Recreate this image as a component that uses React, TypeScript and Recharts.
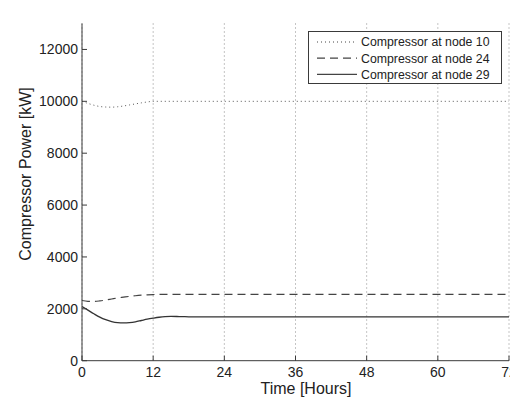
import React from "react";
import { LineChart, Line, XAxis, YAxis, CartesianGrid } from "recharts";

const hours = [0, 1, 2, 3, 4, 5, 6, 7, 8, 9, 10, 11, 12, 13, 14, 15, 16, 17, 18, 20, 24, 36, 48, 60, 72];
const node10 = [10000, 9920, 9850, 9800, 9780, 9775, 9790, 9820, 9860, 9900, 9940, 9975, 10000, 10000, 10000, 10000, 10000, 10000, 10000, 10000, 10000, 10000, 10000, 10000, 10000];
const node24 = [2320, 2290, 2285, 2305, 2340, 2380, 2420, 2450, 2480, 2505, 2525, 2540, 2550, 2555, 2558, 2560, 2560, 2560, 2560, 2560, 2560, 2560, 2560, 2560, 2560];
const node29 = [2090, 1950, 1810, 1680, 1580, 1510, 1470, 1460, 1470, 1500, 1550, 1600, 1640, 1675, 1698, 1706, 1704, 1698, 1692, 1690, 1690, 1690, 1690, 1690, 1690];

const xTicks = [0, 12, 24, 36, 48, 60, 72];
const yTicks = [0, 2000, 4000, 6000, 8000, 10000, 12000];
const seriesNames = ["Compressor at node 10", "Compressor at node 24", "Compressor at node 29"];

const rows = hours.map((h, i) => ({ t: h, a: node10[i], b: node24[i], c: node29[i] }));

const FONT = '"Liberation Sans", Arial, Helvetica, sans-serif';
const AX = "#3a3a3a";

const BottomTick = (props: any) => {
  const { x, y, payload } = props;
  return (
    <g>
      <line x1={x} y1={y} x2={x} y2={y - 5} stroke={AX} strokeWidth={1} />
      <text x={x} y={y + 16} textAnchor="middle" fontSize={14} fill="#222" fontFamily={FONT}>
        {payload.value}
      </text>
    </g>
  );
};
const TopTick = (props: any) => {
  const { x, y } = props;
  return <line x1={x} y1={y} x2={x} y2={y + 5} stroke={AX} strokeWidth={1} />;
};
const LeftTick = (props: any) => {
  const { x, y, payload } = props;
  return (
    <g>
      <line x1={x} y1={y} x2={x + 5} y2={y} stroke={AX} strokeWidth={1} />
      <text x={x - 4} y={y + 5} textAnchor="end" fontSize={14} fill="#222" fontFamily={FONT}>
        {payload.value}
      </text>
    </g>
  );
};
const RightTick = (props: any) => {
  const { x, y } = props;
  return <line x1={x} y1={y} x2={x - 5} y2={y} stroke={AX} strokeWidth={1} />;
};

const legendStyles = [
  { dash: "1 3", w: 1 },
  { dash: "8 5", w: 1.2 },
  { dash: undefined as string | undefined, w: 1.3 },
];

export default function App() {
  return (
    <div style={{ position: "fixed", left: 0, top: 0, width: 510, height: 404, overflow: "hidden", background: "#fff" }}>
      <LineChart width={530} height={404} data={rows} margin={{ top: 23.5, left: 22, right: 21, bottom: 13.3 }}>
        <CartesianGrid horizontal={false} vertical={true} stroke="#8a8a8a" strokeDasharray="1 3" />
        <XAxis
          dataKey="t"
          type="number"
          domain={[0, 72]}
          ticks={xTicks}
          height={30}
          tickSize={0}
          tickMargin={0}
          tickLine={false}
          axisLine={{ stroke: AX, strokeWidth: 1 }}
          tick={BottomTick}
          interval={0}
        />
        <XAxis
          xAxisId="top"
          orientation="top"
          dataKey="t"
          type="number"
          domain={[0, 72]}
          ticks={xTicks}
          height={0}
          tickSize={0}
          tickMargin={0}
          tickLine={false}
          axisLine={{ stroke: AX, strokeWidth: 1 }}
          tick={TopTick}
          interval={0}
        />
        <YAxis
          type="number"
          domain={[0, 13000]}
          ticks={yTicks}
          width={60}
          tickSize={0}
          tickMargin={0}
          tickLine={false}
          axisLine={{ stroke: AX, strokeWidth: 1 }}
          tick={LeftTick}
          interval={0}
        />
        <YAxis
          yAxisId="right"
          orientation="right"
          type="number"
          domain={[0, 13000]}
          ticks={yTicks}
          width={0}
          tickSize={0}
          tickMargin={0}
          tickLine={false}
          axisLine={{ stroke: AX, strokeWidth: 1 }}
          tick={RightTick}
          interval={0}
        />
        <Line type="monotone" dataKey="a" name={seriesNames[0]} stroke="#555" strokeWidth={1} strokeDasharray="1 3" dot={false} isAnimationActive={false} />
        <Line type="monotone" dataKey="b" name={seriesNames[1]} stroke="#444" strokeWidth={1.2} strokeDasharray="8 5" dot={false} isAnimationActive={false} />
        <Line type="monotone" dataKey="c" name={seriesNames[2]} stroke="#333" strokeWidth={1.3} dot={false} isAnimationActive={false} />
        <g>
          <rect x={308.5} y={31.5} width={193} height={52} fill="#fff" stroke={AX} strokeWidth={1} />
          {seriesNames.map((n, i) => {
            const cy = 42 + i * 16.2;
            return (
              <g key={n}>
                <line x1={317} x2={357} y1={cy} y2={cy} stroke="#444" strokeWidth={legendStyles[i].w} strokeDasharray={legendStyles[i].dash} />
                <text x={361} y={cy + 4.3} fontSize={12.3} fill="#222" fontFamily={FONT}>
                  {n}
                </text>
              </g>
            );
          })}
        </g>
        <text x={306} y={394} textAnchor="middle" fontSize={16} fill="#222" fontFamily={FONT}>
          Time [Hours]
        </text>
        <text x={31} y={174} transform="rotate(-90 31 174)" textAnchor="middle" fontSize={16} fill="#222" fontFamily={FONT}>
          Compressor Power [kW]
        </text>
      </LineChart>
    </div>
  );
}
